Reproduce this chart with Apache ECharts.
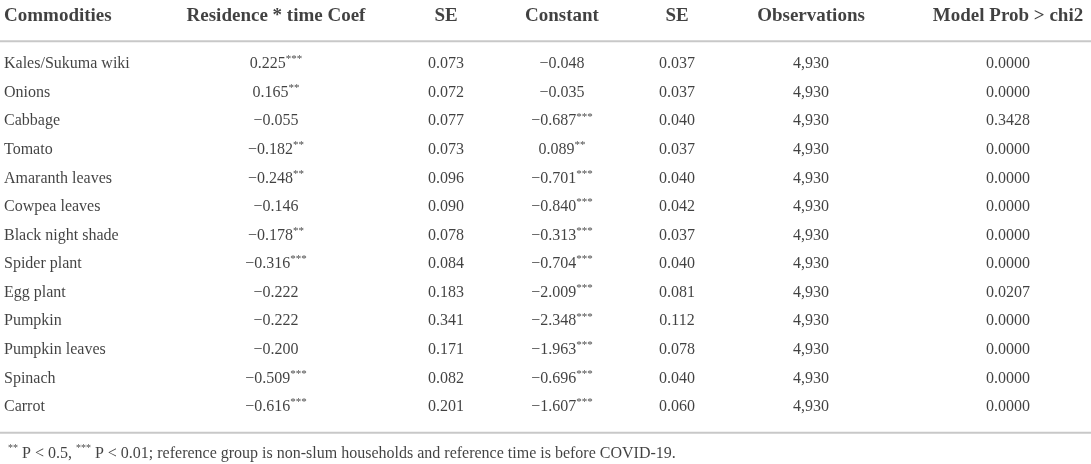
<!DOCTYPE html>
<html>
<head>
<meta charset="utf-8">
<script src="https://cdn.jsdelivr.net/npm/echarts@6/dist/echarts.min.js"></script>
<style>
html,body{margin:0;padding:0;background:#fff;}
#chart{width:1091px;height:464px;}
</style>
</head>
<body>
<div id="chart"></div>
<script>
// ---------- DATA ----------
var headers = ['Commodities', 'Residence * time Coef', 'SE', 'Constant', 'SE', 'Observations', 'Model Prob > chi2'];
var commodities = ['Kales/Sukuma wiki', 'Onions', 'Cabbage', 'Tomato', 'Amaranth leaves', 'Cowpea leaves',
  'Black night shade', 'Spider plant', 'Egg plant', 'Pumpkin', 'Pumpkin leaves', 'Spinach', 'Carrot'];
var coefValues = [0.225, 0.165, -0.055, -0.182, -0.248, -0.146, -0.178, -0.316, -0.222, -0.222, -0.200, -0.509, -0.616];
var coefStars  = [3, 2, 0, 2, 2, 0, 2, 3, 0, 0, 0, 3, 3];
var coefSE     = [0.073, 0.072, 0.077, 0.073, 0.096, 0.090, 0.078, 0.084, 0.183, 0.341, 0.171, 0.082, 0.201];
var constValues = [-0.048, -0.035, -0.687, 0.089, -0.701, -0.840, -0.313, -0.704, -2.009, -2.348, -1.963, -0.696, -1.607];
var constStars  = [0, 0, 3, 2, 3, 3, 3, 3, 3, 3, 3, 3, 3];
var constSE     = [0.037, 0.037, 0.040, 0.037, 0.040, 0.042, 0.037, 0.040, 0.081, 0.112, 0.078, 0.040, 0.060];
var observations = [4930, 4930, 4930, 4930, 4930, 4930, 4930, 4930, 4930, 4930, 4930, 4930, 4930];
var modelProb = [0.0000, 0.0000, 0.3428, 0.0000, 0.0000, 0.0000, 0.0000, 0.0000, 0.0207, 0.0000, 0.0000, 0.0000, 0.0000];
var footnote = ['**', ' P < 0.5, ', '***', ' P < 0.01; reference group is non-slum households and reference time is before COVID-19.'];

// ---------- LAYOUT ----------
var colX = [4, 276, 446, 562, 677, 811, 1008];
var headerRow = -1.66, topRule = -0.8, bottomRule = 12.9, footRow = 13.62;
var FONT = '"Liberation Serif", "DejaVu Serif", serif';
var TXT = '#111111';

function num(v, d) {
  var s = Math.abs(v).toFixed(d);
  return (v < 0 ? '\u2212' : '') + s;
}
function starText(v, st) {
  var s = '{n|' + num(v, 3) + '}';
  if (st > 0) s += '{s|' + '***'.slice(0, st) + '}';
  return s;
}
function thousands(v) { return String(v).replace(/\B(?=(\d{3})+(?!\d))/g, ','); }

var richBody = {
  n: {fontSize: 16, fontFamily: FONT, color: TXT, lineHeight: 20},
  s: {fontSize: 11, fontFamily: FONT, color: TXT, verticalAlign: 'top', lineHeight: 12}
};

var columns = [
  commodities.map(function (c) { return '{n|' + c + '}'; }),
  coefValues.map(function (v, i) { return starText(v, coefStars[i]); }),
  coefSE.map(function (v) { return '{n|' + v.toFixed(3) + '}'; }),
  constValues.map(function (v, i) { return starText(v, constStars[i]); }),
  constSE.map(function (v) { return '{n|' + v.toFixed(3) + '}'; }),
  observations.map(function (v) { return '{n|' + thousands(v) + '}'; }),
  modelProb.map(function (v) { return '{n|' + v.toFixed(4) + '}'; })
];

var series = [];

// rules (horizontal lines across the full width)
[topRule, bottomRule].forEach(function (y) {
  series.push({
    type: 'line', silent: true, symbol: 'none', clip: false,
    data: [[0, y], [1091, y]],
    lineStyle: {color: '#c8c8c8', width: 2}
  });
});

columns.forEach(function (col, ci) {
  series.push({
    type: 'scatter', symbolSize: 0, clip: false, silent: true,
    data: col.map(function (t, ri) { return {value: [colX[ci], ri], txt: t}; }),
    label: {
      show: true, position: 'inside', align: ci === 0 ? 'left' : 'center', verticalAlign: 'middle',
      formatter: function (p) { return p.data.txt; }, rich: richBody
    }
  });
  series.push({
    type: 'scatter', symbolSize: 0, clip: false, silent: true,
    data: [{value: [colX[ci], headerRow], txt: headers[ci]}],
    label: {
      show: true, position: 'inside', align: ci === 0 ? 'left' : 'center', verticalAlign: 'middle',
      formatter: function (p) { return p.data.txt; },
      fontSize: 19, fontWeight: 'bold', fontFamily: FONT, color: TXT
    }
  });
});

// footnote
series.push({
  type: 'scatter', symbolSize: 0, clip: false, silent: true,
  data: [{value: [8, footRow]}],
  label: {
    show: true, position: 'inside', align: 'left', verticalAlign: 'middle',
    formatter: function () {
      return '{s|' + footnote[0] + '}{f|' + footnote[1] + '}{s|' + footnote[2] + '}{f|' + footnote[3] + '}';
    },
    rich: {
      f: {fontSize: 16, fontFamily: FONT, color: TXT, lineHeight: 20},
      s: {fontSize: 10, fontFamily: FONT, color: TXT, verticalAlign: 'top', lineHeight: 11}
    }
  }
});

var chart = echarts.init(document.getElementById('chart'), null, {renderer: 'canvas'});
chart.setOption({
  animation: false,
  backgroundColor: '#ffffff',
  grid: {left: 0, right: 0, top: 64, bottom: 57},
  xAxis: {type: 'value', min: 0, max: 1091, show: false},
  yAxis: {type: 'value', min: 0, max: 12, inverse: true, show: false},
  series: series
});
</script>
</body>
</html>
